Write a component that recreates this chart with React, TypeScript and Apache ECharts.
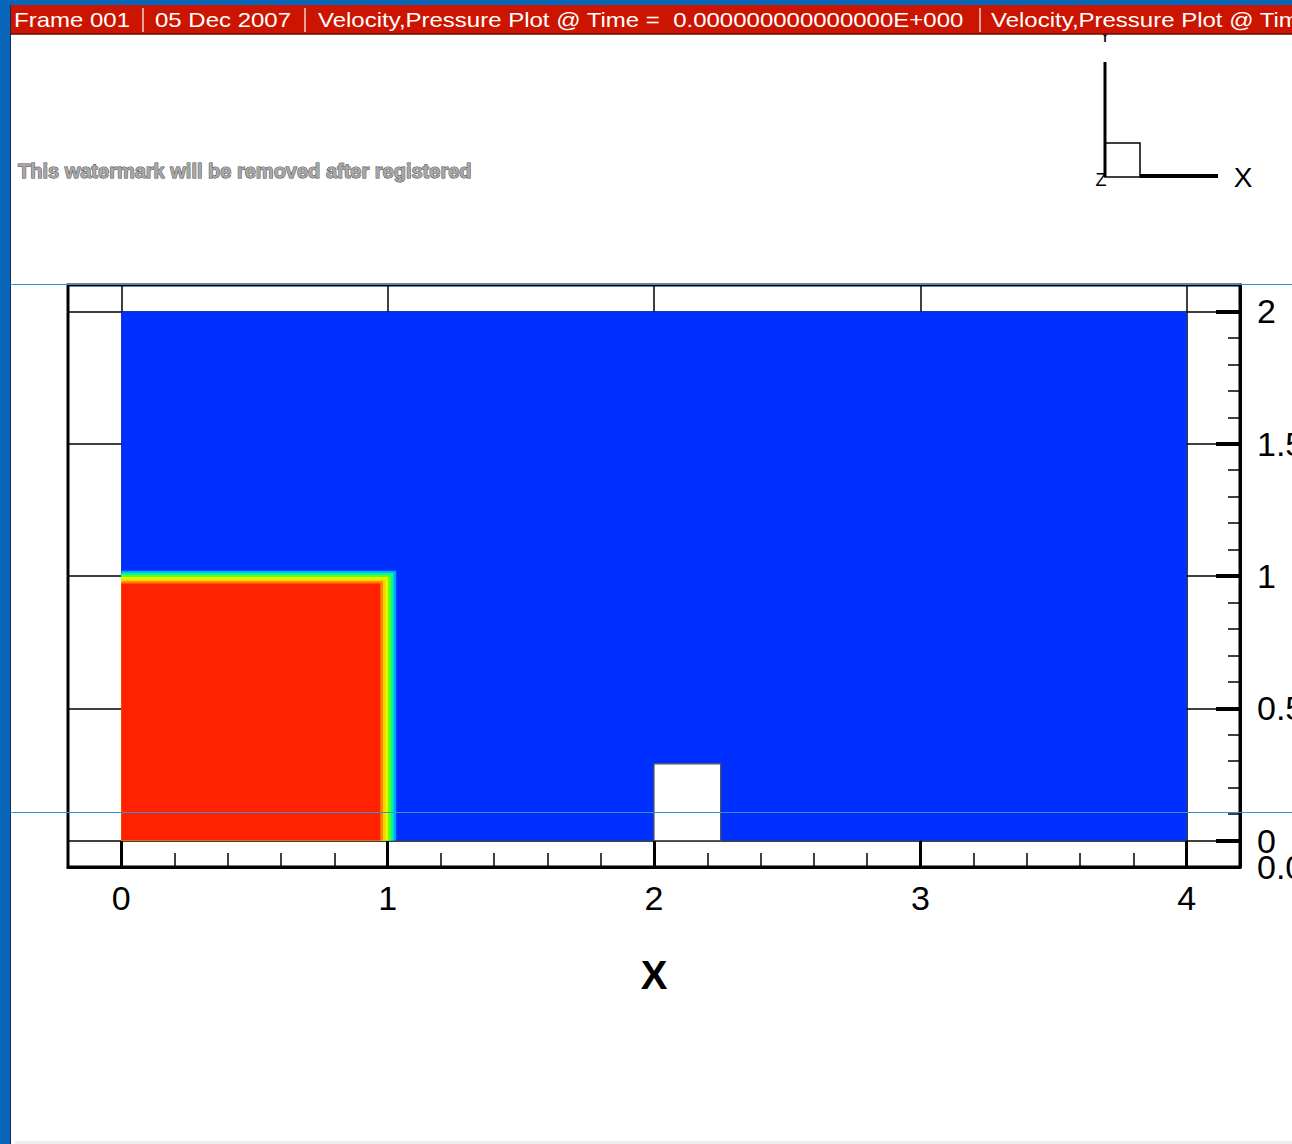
import React, { useEffect, useRef } from "react";
import * as echarts from "echarts";

// Axis ticks and labels
const xMajorTicks = [0, 1, 2, 3, 4];
const xMinorTicks = [0.2, 0.4, 0.6, 0.8, 1.2, 1.4, 1.6, 1.8, 2.2, 2.4, 2.6, 2.8, 3.2, 3.4, 3.6, 3.8];
const yMajorTicks = [0, 0.5, 1, 1.5, 2];
const yMinorTicks = [0.1, 0.2, 0.3, 0.4, 0.6, 0.7, 0.8, 0.9, 1.1, 1.2, 1.3, 1.4, 1.6, 1.7, 1.8, 1.9];
const xRange = [-0.2, 4.2];
const yRange = [-0.1, 2.1];

// Contour field: nested regions [0, right] x [0, top] with fluid fraction level
const fluidLevels = [0.0, 0.15, 0.32, 0.48, 0.62, 0.75, 0.88, 1.0];
const bandRightX = [4.0, 1.032, 1.022, 1.012, 1.002, 0.992, 0.982, 0.972];
const bandTopY = [2.0, 1.02, 1.012, 1.004, 0.996, 0.988, 0.98, 0.972];

// Obstacle (blank cell region)
const obstacle = [2.0, 2.25, 0.0, 0.29];

const headerSegments = [
  "Frame 001",
  "05 Dec 2007",
  "Velocity,Pressure Plot @ Time =  0.000000000000000E+000",
  "Velocity,Pressure Plot @ Time",
];

const FONT = '"Liberation Sans", Arial, sans-serif';

export default function App() {
  const ref = useRef<HTMLDivElement>(null);

  useEffect(() => {
    document.body.style.margin = "0";
    const chart = echarts.init(ref.current!, null, { renderer: "svg" });

    const contourData = fluidLevels.map((v, i) => [0, bandRightX[i], 0, bandTopY[i], v]);

    const rectItem = (params: any, api: any) => {
      const x0 = api.value(0), x1 = api.value(1), y0 = api.value(2), y1 = api.value(3);
      const a = api.coord([x0, y1]);
      const b = api.coord([x1, y0]);
      return {
        type: "rect",
        shape: { x: a[0], y: a[1], width: b[0] - a[0], height: b[1] - a[1] },
        style: { fill: api.visual("color") },
      };
    };

    const obstacleItem = (params: any, api: any) => {
      const a = api.coord([api.value(0), api.value(3)]);
      const b = api.coord([api.value(1), api.value(2)]);
      return {
        type: "rect",
        shape: { x: a[0], y: a[1], width: b[0] - a[0], height: b[1] - a[1] },
        style: { fill: "#ffffff", stroke: "#555555", lineWidth: 1.2 },
      };
    };

    const headerText = (text: string, x: number) => ({
      type: "text",
      x,
      y: 20,
      scaleX: 1.2,
      z: 110,
      style: {
        text,
        x: 0,
        y: 0,
        fill: "#ffffff",
        font: `20px ${FONT}`,
        textAlign: "left",
        textVerticalAlign: "middle",
      },
    });
    const sep = (x: number) => ({
      type: "line",
      z: 110,
      shape: { x1: x, y1: 8, x2: x, y2: 32 },
      style: { stroke: "#ffffff", lineWidth: 1.2 },
    });

    const option: any = {
      animation: false,
      backgroundColor: "#ffffff",
      grid: {
        left: 68,
        right: 52,
        top: 285,
        bottom: 277,
        containLabel: false,
        outerBoundsMode: "none",
        show: true,
        borderColor: "#000000",
        borderWidth: 3,
        backgroundColor: "#ffffff",
      },
      xAxis: [
        {
          type: "value",
          min: xRange[0],
          max: xRange[1],
          position: "bottom",
          axisLine: { show: true, onZero: false, lineStyle: { color: "#000", width: 3 } },
          axisTick: { show: true, inside: true, length: 26, lineStyle: { color: "#000", width: 3 }, customValues: xMajorTicks },
          axisLabel: { show: true, customValues: xMajorTicks, fontSize: 34, fontFamily: FONT, color: "#000", margin: 14, formatter: (v: number) => String(v) },
          splitLine: { show: true, lineStyle: { color: "#000", width: 1.5 } },
          name: "X",
          nameLocation: "middle",
          nameGap: 88,
          nameTextStyle: { fontSize: 40, fontWeight: "bold", fontFamily: FONT, color: "#000" },
        },
        {
          type: "value",
          min: xRange[0],
          max: xRange[1],
          position: "bottom",
          axisLine: { show: false, onZero: false },
          axisTick: { show: true, inside: true, length: 14, lineStyle: { color: "#000", width: 1.5 }, customValues: xMinorTicks },
          axisLabel: { show: false },
          splitLine: { show: false },
        },
      ],
      yAxis: [
        {
          type: "value",
          min: yRange[0],
          max: yRange[1],
          position: "right",
          axisLine: { show: true, onZero: false, lineStyle: { color: "#000", width: 3 } },
          axisTick: { show: true, inside: true, length: 24, lineStyle: { color: "#000", width: 4 }, customValues: yMajorTicks },
          axisLabel: { show: true, customValues: yMajorTicks, fontSize: 34, fontFamily: FONT, color: "#000", margin: 17, formatter: (v: number) => String(v) },
          splitLine: { show: true, lineStyle: { color: "#000", width: 1.5 } },
        },
        {
          type: "value",
          min: yRange[0],
          max: yRange[1],
          position: "right",
          axisLine: { show: false, onZero: false },
          axisTick: { show: true, inside: true, length: 12, lineStyle: { color: "#000", width: 1.5 }, customValues: yMinorTicks },
          axisLabel: { show: false },
          splitLine: { show: false },
        },
      ],
      visualMap: {
        type: "continuous",
        show: false,
        dimension: 4,
        min: 0,
        max: 1,
        seriesIndex: 0,
        inRange: { color: ["#0030ff", "#00b4ff", "#00ff9a", "#70ff00", "#ffff00", "#ffa000", "#ff2200"] },
      },
      series: [
        {
          type: "custom",
          xAxisIndex: 0,
          yAxisIndex: 0,
          renderItem: rectItem,
          encode: { x: [0, 1], y: [2, 3] },
          data: contourData,
          clip: false,
          z: 2,
        },
        {
          type: "custom",
          xAxisIndex: 0,
          yAxisIndex: 0,
          renderItem: obstacleItem,
          encode: { x: [0, 1], y: [2, 3] },
          data: [obstacle],
          clip: false,
          z: 3,
        },
      ],
      graphic: [
        // frame chrome
        { type: "rect", z: 100, shape: { x: 0, y: 0, width: 10, height: 1144 }, style: { fill: "#0866b8" } },
        { type: "line", z: 100, shape: { x1: 10.5, y1: 0, x2: 10.5, y2: 1144 }, style: { stroke: "#1a2a44", lineWidth: 1 } },
        { type: "rect", z: 100, shape: { x: 0, y: 0, width: 1292, height: 5 }, style: { fill: "#0866b8" } },
        { type: "rect", z: 105, shape: { x: 11, y: 5, width: 1281, height: 29 }, style: { fill: "#cc1500" } },
        { type: "line", z: 105, shape: { x1: 11, y1: 34, x2: 1292, y2: 34 }, style: { stroke: "#6a0a00", lineWidth: 1.5 } },
        { type: "rect", z: 100, shape: { x: 15, y: 1141, width: 1277, height: 3 }, style: { fill: "#ececec" } },
        headerText(headerSegments[0], 14),
        sep(143),
        headerText(headerSegments[1], 155),
        sep(305),
        headerText(headerSegments[2], 318),
        sep(980),
        headerText(headerSegments[3], 991),
        // watermark
        {
          type: "text",
          z: 100,
          style: {
            text: "This watermark will be removed after registered",
            x: 18,
            y: 171,
            fill: "#a8a8a8",
            stroke: "#4a4a4a",
            lineWidth: 1,
            font: `bold 20px ${FONT}`,
            textAlign: "left",
            textVerticalAlign: "middle",
          },
        },
        // axis triad
        { type: "text", z: 101, style: { text: "Y", x: 1105, y: 36, fill: "#000", font: `18px ${FONT}`, textAlign: "center", textVerticalAlign: "middle" } },
        { type: "line", z: 101, shape: { x1: 1105, y1: 62, x2: 1105, y2: 177 }, style: { stroke: "#000", lineWidth: 3 } },
        { type: "rect", z: 101, shape: { x: 1105, y: 143, width: 35, height: 34 }, style: { fill: "none", stroke: "#000", lineWidth: 1.5 } },
        { type: "line", z: 101, shape: { x1: 1140, y1: 176, x2: 1218, y2: 176 }, style: { stroke: "#000", lineWidth: 4 } },
        { type: "text", z: 101, style: { text: "X", x: 1243, y: 177, fill: "#000", font: `28px ${FONT}`, textAlign: "center", textVerticalAlign: "middle" } },
        { type: "text", z: 101, style: { text: "Z", x: 1101, y: 180, fill: "#000", font: `18px ${FONT}`, textAlign: "center", textVerticalAlign: "middle" } },
        // overlapping axis label artifact
        { type: "text", z: 101, style: { text: "0.0", x: 1257, y: 867, fill: "#000", font: `34px ${FONT}`, textAlign: "left", textVerticalAlign: "middle" } },
        // screen capture artifact lines
        { type: "line", z: 120, shape: { x1: 10, y1: 284.5, x2: 1292, y2: 284.5 }, style: { stroke: "#3a8fd0", lineWidth: 1 } },
        { type: "line", z: 120, shape: { x1: 10, y1: 812.5, x2: 1292, y2: 812.5 }, style: { stroke: "#3a8fd0", lineWidth: 1 } },
      ],
    };

    chart.setOption(option);
    return () => chart.dispose();
  }, []);

  return (
    <div
      ref={ref}
      style={{ width: 1292, height: 1144, position: "absolute", left: 0, top: 0 }}
    />
  );
}
